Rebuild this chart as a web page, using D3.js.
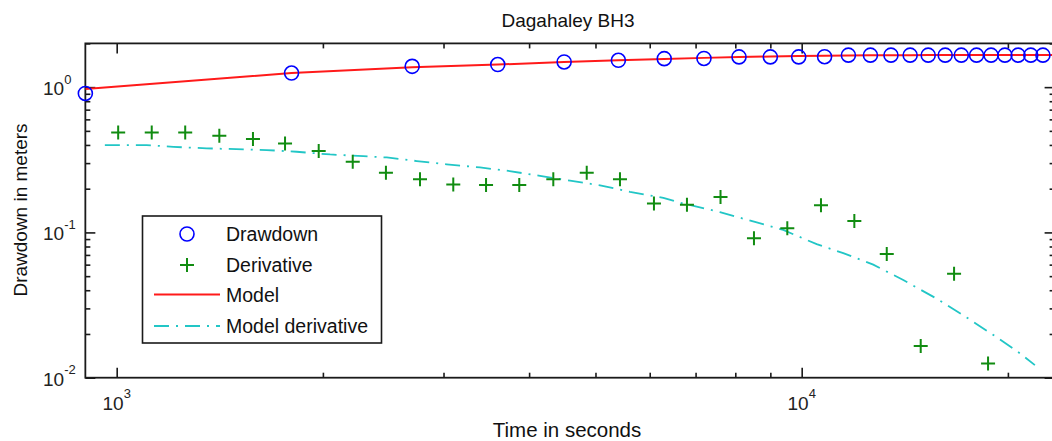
<!DOCTYPE html>
<html>
<head>
<meta charset="utf-8">
<script src="https://cdn.jsdelivr.net/npm/d3@7"></script>
<style>
  html, body { margin: 0; padding: 0; background: #fff; }
  svg { display: block; font-family: "Liberation Sans", Arial, Helvetica, sans-serif; }
</style>
</head>
<body>
<svg id="chart" width="1052" height="441"></svg>
<script>
// Pumping test, Dagahaley BH3: observed drawdown, its log-derivative and the fitted model
const drawdownTime = [900, 1800, 2700, 3600, 4500, 5400, 6300, 7200, 8100, 9000, 9900, 10800, 11700,
  12600, 13500, 14400, 15300, 16200, 17100, 18000, 18900, 19800, 20700, 21600, 22500];
const drawdownValue = [0.905, 1.25, 1.39, 1.43, 1.49, 1.53, 1.57, 1.575, 1.615, 1.615, 1.615, 1.62, 1.66,
  1.66, 1.66, 1.66, 1.66, 1.66, 1.66, 1.66, 1.66, 1.66, 1.66, 1.66, 1.66];

const derivTime = [1005, 1125, 1259, 1412, 1581, 1761, 1972, 2211, 2472, 2772, 3100, 3461, 3870, 4339,
  4855, 5429, 6086, 6800, 7612, 8518, 9528, 10670, 11936, 13310, 14920, 16690, 18710];
const derivValue = [0.488, 0.488, 0.488, 0.462, 0.439, 0.410, 0.363, 0.306, 0.257, 0.232, 0.214, 0.212,
  0.212, 0.232, 0.257, 0.232, 0.158, 0.155, 0.175, 0.091, 0.107, 0.154, 0.120, 0.071, 0.0165, 0.052, 0.0125];

const modelTime = [900, 1800, 2700, 3600, 4500, 5400, 6300, 7200, 8100, 9000, 9900, 10800, 11700, 12600,
  13500, 14400, 15300, 16200, 17100, 18000, 18900, 19800, 20700, 21600, 22500, 23400];
const modelValue = [0.969, 1.25, 1.37, 1.43, 1.49, 1.53, 1.56, 1.59, 1.61, 1.625, 1.635, 1.645, 1.65, 1.655,
  1.66, 1.66, 1.662, 1.663, 1.664, 1.665, 1.665, 1.666, 1.666, 1.667, 1.667, 1.667];

const modelDerivTime = [961, 1106, 1210, 1353, 1656, 1831, 2049, 2291, 2479, 2742, 3032, 3391, 3710, 4150,
  4590, 5078, 5615, 6281, 6643, 7598, 8546, 9399, 10517, 11500, 12720, 14070, 15740, 17410, 19260, 20830, 21900];
const modelDerivValue = [0.399, 0.399, 0.388, 0.379, 0.369, 0.359, 0.344, 0.335, 0.328, 0.310, 0.294, 0.280,
  0.266, 0.245, 0.227, 0.211, 0.190, 0.173, 0.160, 0.138, 0.118, 0.104, 0.083, 0.072, 0.060, 0.047, 0.035,
  0.026, 0.019, 0.0147, 0.0122];

const xMajorTicks = [1000, 10000];
const xMinorTicks = [2000, 3000, 4000, 5000, 6000, 7000, 8000, 9000, 20000];
const yMajorTicks = [0.01, 0.1, 1];
const yMinorTicks = [0.02, 0.03, 0.04, 0.05, 0.06, 0.07, 0.08, 0.09, 0.2, 0.3, 0.4, 0.5, 0.6, 0.7, 0.8, 0.9, 2];
const xTickExp = ["3", "4"];
const yTickExp = ["-2", "-1", "0"];
const legendLabels = ["Drawdown", "Derivative", "Model", "Model derivative"];

const svg = d3.select("#chart");
const FONT = 19;

// axes geometry
const x = d3.scaleLog().domain([900, 23400]).range([85.35, 1054.6]);
const y = d3.scaleLog().domain([0.01, 2]).range([377.7, 43.4]);
const [x0, x1] = x.range();
const [yB, yT] = y.range();

const colors = { draw: "#0000ff", deriv: "#118c11", model: "#ff1a1a", mderiv: "#22c6c6", axis: "#1a1a1a" };

// clip for lines
svg.append("defs").append("clipPath").attr("id", "plotClip")
  .append("rect").attr("x", x0).attr("y", yT).attr("width", x1 - x0).attr("height", yB - yT);

// ticks on all four sides, pointing inward
function tickAxis(gen, values, size, transform) {
  const g = svg.append("g").attr("transform", transform)
    .call(gen.tickValues(values).tickSizeInner(size).tickSizeOuter(0).tickFormat(() => ""));
  g.select(".domain").remove();
  g.selectAll(".tick line").attr("stroke", colors.axis).attr("stroke-width", 1.6);
  return g;
}
tickAxis(d3.axisBottom(x), xMajorTicks, -10, `translate(0,${yB})`);
tickAxis(d3.axisBottom(x), xMinorTicks, -5, `translate(0,${yB})`);
tickAxis(d3.axisTop(x), xMajorTicks, -10, `translate(0,${yT})`);
tickAxis(d3.axisTop(x), xMinorTicks, -5, `translate(0,${yT})`);
tickAxis(d3.axisLeft(y), yMajorTicks, -10, `translate(${x0},0)`);
tickAxis(d3.axisLeft(y), yMinorTicks, -5, `translate(${x0},0)`);
tickAxis(d3.axisRight(y), yMajorTicks, -10, `translate(${x1},0)`);
tickAxis(d3.axisRight(y), yMinorTicks, -5, `translate(${x1},0)`);

// axes box
svg.append("rect").attr("x", x0).attr("y", yT).attr("width", x1 - x0).attr("height", yB - yT)
  .attr("fill", "none").attr("stroke", colors.axis).attr("stroke-width", 1.8);

// tick labels with superscript exponents
xMajorTicks.forEach((v, i) => {
  const t = svg.append("text").attr("x", x(v)).attr("y", 410).attr("text-anchor", "middle")
    .attr("font-size", FONT).attr("fill", "#222").text("10");
  t.append("tspan").attr("dy", -12).attr("font-size", 13).text(xTickExp[i]);
});
yMajorTicks.forEach((v, i) => {
  const t = svg.append("text").attr("x", 43).attr("y", y(v) + 8).attr("text-anchor", "start")
    .attr("font-size", FONT).attr("fill", "#222").text("10");
  t.append("tspan").attr("dy", -11.5).attr("font-size", 13).text(yTickExp[i]);
});

// title and axis labels
svg.append("text").attr("x", 568).attr("y", 27).attr("text-anchor", "middle")
  .attr("font-size", FONT).attr("fill", "#111").text("Dagahaley BH3");
svg.append("text").attr("x", 567).attr("y", 437).attr("text-anchor", "middle")
  .attr("font-size", 20.5).attr("fill", "#111").text("Time in seconds");
svg.append("text").attr("transform", "translate(27,210) rotate(-90)").attr("text-anchor", "middle")
  .attr("font-size", FONT).attr("fill", "#111").text("Drawdown in meters");

const plot = svg.append("g");

// model curve
const modelPts = modelTime.map((t, i) => [t, modelValue[i]]);
plot.append("path").attr("clip-path", "url(#plotClip)")
  .attr("d", d3.line().x(d => x(d[0])).y(d => y(d[1]))(modelPts))
  .attr("fill", "none").attr("stroke", colors.model).attr("stroke-width", 2);

// model derivative, dash-dot
const mderivPts = modelDerivTime.map((t, i) => [t, modelDerivValue[i]]);
plot.append("path").attr("clip-path", "url(#plotClip)")
  .attr("d", d3.line().x(d => x(d[0])).y(d => y(d[1]))(mderivPts))
  .attr("fill", "none").attr("stroke", colors.mderiv).attr("stroke-width", 1.8)
  .attr("stroke-dasharray", "15,7,2,7");

// observed drawdown circles
plot.selectAll("circle.obs").data(drawdownTime.map((t, i) => [t, drawdownValue[i]]))
  .join("circle").attr("class", "obs")
  .attr("cx", d => x(d[0])).attr("cy", d => y(d[1])).attr("r", 7)
  .attr("fill", "none").attr("stroke", colors.draw).attr("stroke-width", 1.6);

// derivative plus markers
const plus = (cx, cy, s) => `M${cx - s},${cy}H${cx + s}M${cx},${cy - s}V${cy + s}`;
plot.selectAll("path.der").data(derivTime.map((t, i) => [t, derivValue[i]]))
  .join("path").attr("class", "der")
  .attr("d", d => plus(x(d[0]), y(d[1]), 7))
  .attr("fill", "none").attr("stroke", colors.deriv).attr("stroke-width", 2);

// legend
const lg = svg.append("g");
lg.append("rect").attr("x", 142.5).attr("y", 216).attr("width", 239).attr("height", 127)
  .attr("fill", "#fff").attr("stroke", colors.axis).attr("stroke-width", 1.6);
const rowY = [234, 265, 294.5, 326];
lg.append("circle").attr("cx", 187).attr("cy", rowY[0]).attr("r", 7)
  .attr("fill", "none").attr("stroke", colors.draw).attr("stroke-width", 1.6);
lg.append("path").attr("d", plus(187, rowY[1], 7))
  .attr("stroke", colors.deriv).attr("stroke-width", 2);
lg.append("line").attr("x1", 154).attr("x2", 220).attr("y1", rowY[2]).attr("y2", rowY[2])
  .attr("stroke", colors.model).attr("stroke-width", 2);
lg.append("line").attr("x1", 154).attr("x2", 220).attr("y1", rowY[3]).attr("y2", rowY[3])
  .attr("stroke", colors.mderiv).attr("stroke-width", 1.8).attr("stroke-dasharray", "15,7,2,7");
legendLabels.forEach((s, i) => {
  lg.append("text").attr("x", 226).attr("y", rowY[i] + 7).attr("font-size", 19.5)
    .attr("fill", "#111").text(s);
});
</script>
</body>
</html>
